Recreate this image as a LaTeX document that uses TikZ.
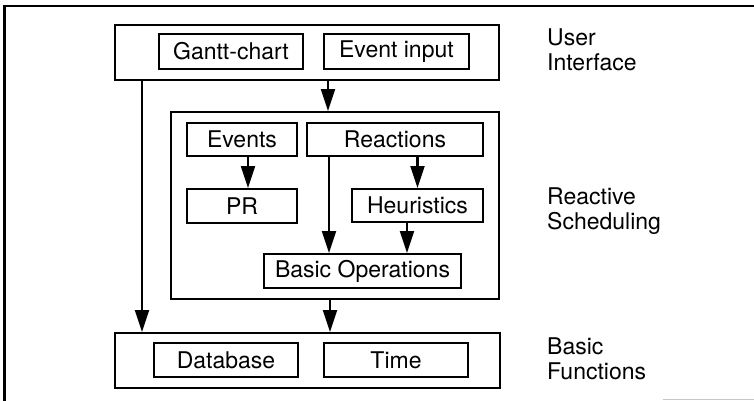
\documentclass[tikz,border=0pt]{standalone}
\usepackage{fontspec}
\setmainfont{TeX Gyre Heros}
\usetikzlibrary{arrows.meta}
\begin{document}
\begin{tikzpicture}[x=1pt,y=-1pt,
  box/.style={draw,line width=2pt,inner sep=0pt,font=\fontsize{23}{25}\selectfont},
  arr/.style={line width=2.2pt,-{Triangle[length=22pt,width=14pt]}},
  lbl/.style={anchor=north west,align=left,inner sep=0pt,font=\fontsize{23}{25}\selectfont}]
\useasboundingbox (0,0) rectangle (754,400);
% outer frame (partly cropped)
\draw[line width=2.2pt] (4.5,402) -- (4.5,6) -- (756,6);
\draw[gray!45,line width=1pt] (663,399) -- (754,399);
% user interface
\node[box,minimum width=384pt,minimum height=55pt] (ui) at (307,52.5) {};
\node[box,minimum width=144pt,minimum height=35pt] (gantt) at (231,51.5) {Gantt-chart};
\node[box,minimum width=145pt,minimum height=35pt] (evin) at (396.5,51.5) {Event input};
% reactive scheduling
\node[box,minimum width=328pt,minimum height=187pt] (rs) at (335,205.5) {};
\node[box,minimum width=110pt,minimum height=33pt] (events) at (242,139.5) {Events};
\node[box,minimum width=176pt,minimum height=33pt] (reac) at (395,139.5) {Reactions};
\node[box,minimum width=110pt,minimum height=34pt] (pr) at (242,206) {PR};
\node[box,minimum width=131pt,minimum height=33pt] (heur) at (417.5,205.5) {Heuristics};
\node[box,minimum width=197pt,minimum height=34pt] (bo) at (362.5,271) {Basic Operations};
% basic functions
\node[box,minimum width=385pt,minimum height=55pt] (bf) at (307.5,360.5) {};
\node[box,minimum width=144pt,minimum height=34pt] (db) at (226,360) {Database};
\node[box,minimum width=144pt,minimum height=34pt] (time) at (396,360) {Time};
% labels
\node[lbl] (l1) at (547,29) {User\\Interface};
\node[lbl] (l2) at (547,188) {Reactive\\Scheduling};
\node[lbl] (l3) at (547,338) {Basic\\Functions};
% connectors
\draw[arr] ([xshift=214pt]ui.south west) -- ([xshift=158pt]rs.north west);
\draw[arr] ([xshift=28pt]ui.south west) -- ([xshift=28pt]bf.north west);
\draw[arr] ([xshift=6pt]events.south) -- ([xshift=6pt]pr.north);
\draw[arr] (reac.south -| heur.north) -- (heur.north);
\draw[arr] ([xshift=23pt]reac.south west) -- ([xshift=66pt]bo.north west);
\draw[arr] ([xshift=-10.5pt]heur.south) -- ([xshift=44.5pt]bo.north);
\draw[arr] ([xshift=-5pt]rs.south) -- ([xshift=22.5pt]bf.north);
\end{tikzpicture}
\end{document}
